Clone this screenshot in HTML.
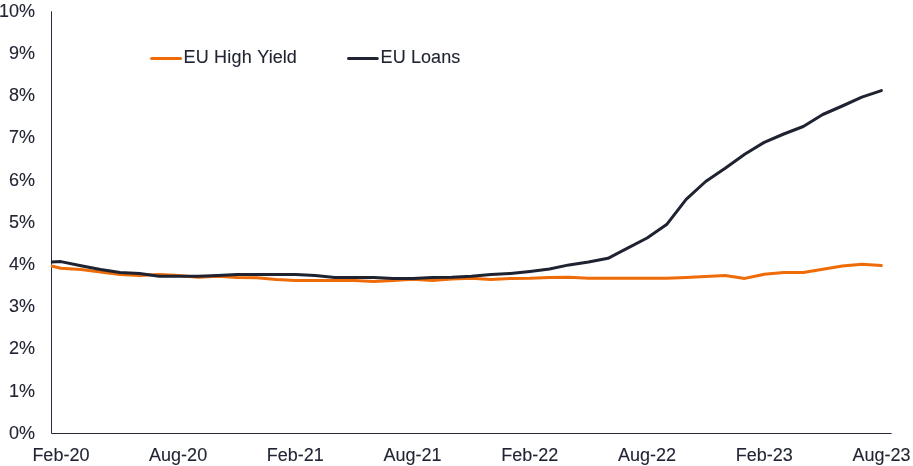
<!DOCTYPE html>
<html><head><meta charset="utf-8"><title>EU High Yield vs EU Loans</title>
<style>
html,body{margin:0;padding:0;background:#fff;}
svg{display:block;}
text{font-family:"Liberation Sans",Arial,sans-serif;font-size:18px;fill:#212533;stroke:#212533;stroke-width:0.1px;}
</style></head><body>
<svg width="913" height="466" viewBox="0 0 913 466">
<rect width="913" height="466" fill="#fff"/>
<path d="M51.5 11.3 V433.5 H891.6" fill="none" stroke="#262a3a" stroke-width="1"/>
<path d="M51.30 266.00 L60.90 268.30 L81.02 269.50 L100.54 272.00 L120.06 274.50 L139.58 275.50 L159.10 274.60 L178.62 275.50 L198.14 277.20 L217.66 276.30 L237.18 277.50 L256.70 277.70 L276.22 279.60 L295.74 280.40 L315.26 280.40 L334.78 280.40 L354.30 280.40 L373.82 281.60 L393.34 280.40 L412.86 279.30 L432.38 280.40 L451.90 279.10 L471.42 278.20 L490.94 279.40 L510.46 278.50 L529.98 278.30 L549.50 277.40 L569.02 277.20 L588.54 278.30 L608.06 278.30 L627.58 278.30 L647.10 278.20 L666.62 278.20 L686.14 277.40 L705.66 276.40 L725.18 275.50 L744.70 278.40 L764.22 274.30 L783.74 272.50 L803.26 272.50 L822.78 269.20 L842.30 266.10 L861.82 264.20 L881.34 265.60" fill="none" stroke="#ee6b08" stroke-width="3" stroke-linejoin="round" stroke-linecap="round"/>
<path d="M51.50 261.90 L60.90 261.60 L81.02 265.80 L100.54 269.50 L120.06 272.50 L139.58 273.50 L159.10 276.35 L178.62 276.35 L198.14 276.35 L217.66 275.50 L237.18 274.45 L256.70 274.45 L276.22 274.45 L295.74 274.45 L315.26 275.60 L334.78 277.40 L354.30 277.40 L373.82 277.40 L393.34 278.50 L412.86 278.50 L432.38 277.40 L451.90 277.30 L471.42 276.20 L490.94 274.50 L510.46 273.50 L529.98 271.40 L549.50 269.00 L569.02 264.90 L588.54 261.90 L608.06 258.30 L627.58 248.10 L647.10 238.00 L666.62 224.60 L686.14 199.40 L705.66 181.50 L725.18 168.20 L744.70 154.20 L764.22 142.40 L783.74 134.00 L803.26 126.50 L822.78 114.50 L842.30 106.00 L861.82 97.20 L881.34 90.60" fill="none" stroke="#1e2231" stroke-width="3" stroke-linejoin="round" stroke-linecap="round"/>
<rect x="48" y="255" width="2.9" height="20" fill="#fff"/>
<g>
<text x="34.9" y="438.70" text-anchor="end">0%</text>
<text x="34.9" y="396.52" text-anchor="end">1%</text>
<text x="34.9" y="354.34" text-anchor="end">2%</text>
<text x="34.9" y="312.16" text-anchor="end">3%</text>
<text x="34.9" y="269.98" text-anchor="end">4%</text>
<text x="34.9" y="227.80" text-anchor="end">5%</text>
<text x="34.9" y="185.62" text-anchor="end">6%</text>
<text x="34.9" y="143.44" text-anchor="end">7%</text>
<text x="34.9" y="101.26" text-anchor="end">8%</text>
<text x="34.9" y="59.08" text-anchor="end">9%</text>
<text x="34.9" y="16.90" text-anchor="end">10%</text>
</g>
<g>
<text x="60.90" y="460.7" text-anchor="middle">Feb-20</text>
<text x="178.12" y="460.7" text-anchor="middle">Aug-20</text>
<text x="295.34" y="460.7" text-anchor="middle">Feb-21</text>
<text x="412.56" y="460.7" text-anchor="middle">Aug-21</text>
<text x="529.78" y="460.7" text-anchor="middle">Feb-22</text>
<text x="647.00" y="460.7" text-anchor="middle">Aug-22</text>
<text x="764.22" y="460.7" text-anchor="middle">Feb-23</text>
<text x="881.44" y="460.7" text-anchor="middle">Aug-23</text>
</g>
<line x1="151.7" y1="58.5" x2="180.5" y2="58.5" stroke="#ee6b08" stroke-width="3.15" stroke-linecap="round"/>
<text x="183.6" y="62.7"><tspan letter-spacing="0.1">EU </tspan><tspan letter-spacing="0.28">High</tspan><tspan letter-spacing="0.06" dx="0.5"> Yield</tspan></text>
<line x1="348.6" y1="58.5" x2="377.2" y2="58.5" stroke="#1e2231" stroke-width="3.15" stroke-linecap="round"/>
<text x="380.6" y="62.7" letter-spacing="0.1">EU Loans</text>
</svg>
</body></html>
